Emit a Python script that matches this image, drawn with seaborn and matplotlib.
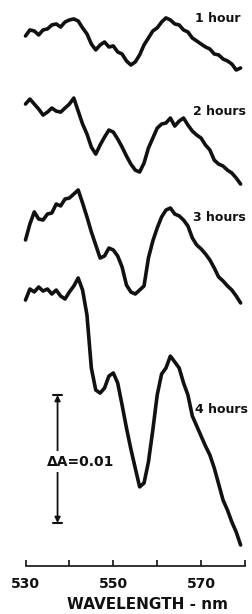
import numpy as np
import pandas as pd
import matplotlib
matplotlib.use("Agg")
import matplotlib.pyplot as plt
import seaborn as sns

# wavelength grid (nm) shared by all spectra
wavelength = np.arange(530, 580)

# difference spectra, dA in units of 0.001 absorbance, relative to 530 nm
da_1h = [0.00, 0.47, 0.39, 0.08, 0.47, 0.55, 0.86, 0.94, 0.70, 1.09,
         1.25, 1.33, 1.17, 0.63, 0.16, -0.63, -1.09, -0.70, -0.47, -0.86,
         -0.78, -1.25, -1.41, -1.95, -2.27, -2.03, -1.48, -0.70, -0.16, 0.39,
         0.63, 1.09, 1.41, 1.25, 0.94, 0.86, 0.47, 0.31, -0.16, -0.39,
         -0.63, -0.86, -1.02, -1.41, -1.48, -1.80, -1.95, -2.19, -2.66, -2.50]
da_2h = [0.00, 0.39, 0.00, -0.39, -0.86, -0.63, -0.31, -0.55, -0.63, -0.31,
         0.00, 0.47, -0.55, -1.56, -2.34, -3.36, -3.91, -3.20, -2.58, -2.03,
         -2.19, -2.73, -3.36, -4.06, -4.69, -5.16, -5.31, -4.61, -3.44, -2.66,
         -1.88, -1.56, -1.48, -1.09, -1.72, -1.33, -1.09, -1.64, -2.11, -2.42,
         -2.66, -3.20, -3.59, -4.38, -4.69, -4.84, -5.16, -5.39, -5.78, -6.25]
da_3h = [0.00, 1.25, 2.19, 1.64, 1.56, 2.03, 2.11, 2.81, 2.66, 3.20,
         3.28, 3.59, 3.91, 2.89, 1.80, 0.63, -0.39, -1.41, -1.25, -0.63,
         -0.78, -1.25, -2.11, -3.52, -4.06, -4.22, -3.91, -3.59, -1.41, -0.08,
         0.94, 1.80, 2.34, 2.50, 2.03, 1.88, 1.56, 1.09, 0.16, -0.39,
         -0.70, -1.09, -1.56, -2.19, -2.89, -3.20, -3.59, -3.91, -4.38, -4.92]
da_4h = [0.00, 0.86, 0.63, 1.02, 0.70, 0.86, 0.47, 0.78, 0.31, 0.08,
         0.63, 1.09, 1.72, 0.78, -1.17, -5.31, -7.03, -7.27, -6.88, -5.94,
         -5.70, -6.48, -8.20, -10.00, -11.64, -13.13, -14.60, -14.30, -12.66, -10.16,
         -7.42, -5.78, -5.31, -4.38, -4.84, -5.31, -6.48, -7.42, -9.06, -9.84,
         -10.63, -11.41, -12.11, -13.13, -14.38, -15.63, -16.41, -17.34, -18.13, -19.14]

labels = ["1 hour", "2 hours", "3 hours", "4 hours"]
offsets = [41.41, 36.09, 25.47, 20.78]
scale_bar = 10.0  # 0.01 absorbance

rows = []
for lab, off, vals in zip(labels, offsets, [da_1h, da_2h, da_3h, da_4h]):
    for w, v in zip(wavelength, vals):
        rows.append({"wavelength": w, "dA": v + off, "time": lab})
df = pd.DataFrame(rows)

sns.set_theme(style="white")
plt.rcParams["font.family"] = ["DejaVu Sans"]
plt.rcParams["font.weight"] = "bold"

fig = plt.figure(figsize=(2.53, 6.14), dpi=100)
ax = fig.add_axes([0, 0, 1, 1])

sns.lineplot(data=df, x="wavelength", y="dA", hue="time", palette=["#111111"] * 4,
             estimator=None, legend=False, linewidth=2.6, ax=ax)

ax.set_xlim(530 - 25.5 / 4.39, 530 + 227.5 / 4.39)
ax.set_ylim(-3.75, 44.22)
ax.set_facecolor("white")

# x axis only
for s in ["left", "right", "top"]:
    ax.spines[s].set_visible(False)
ax.spines["bottom"].set_position(("data", 0))
ax.spines["bottom"].set_bounds(530, 580)
ax.spines["bottom"].set_linewidth(1.2)
ax.spines["bottom"].set_color("#111111")
ax.set_xticks(range(530, 581, 10))
ax.set_xticklabels(["530", "", "550", "", "570", ""], fontsize=10, fontweight="bold")
ax.tick_params(axis="x", direction="in", length=4.5, width=1.2, pad=8, colors="#111111", bottom=True)
ax.set_yticks([])
ax.set_xlabel("")
ax.set_ylabel("")
ax.text(557.7, -2.97, "WAVELENGTH - nm", ha="center", va="center",
        fontsize=11, fontweight="bold", color="#111111")

# trace labels
label_pos = [(568.6, 42.81), (568.1, 35.47), (568.1, 27.19), (568.6, 12.19)]
for lab, (lx, ly) in zip(labels, label_pos):
    ax.text(lx, ly, lab, ha="left", va="center", fontsize=9, fontweight="bold", color="#111111")

# scale bar
bx, b0 = 537.3, 3.36
ax.annotate("", xy=(bx, b0 + scale_bar), xytext=(bx, b0),
            arrowprops=dict(arrowstyle="<|-|>", color="#111111", lw=1.3,
                            mutation_scale=8, shrinkA=0, shrinkB=0))
ax.plot([bx - 1.1, bx + 1.1], [b0, b0], color="#111111", lw=1.5)
ax.plot([bx - 1.1, bx + 1.1], [b0 + scale_bar, b0 + scale_bar], color="#111111", lw=1.5)
ax.text(542.5, 8.15, "ΔA=0.01", ha="center", va="center", fontsize=10, fontweight="bold",
        color="#111111", bbox=dict(facecolor="white", edgecolor="none", pad=2.5))

fig.savefig("out.png", dpi=100)
